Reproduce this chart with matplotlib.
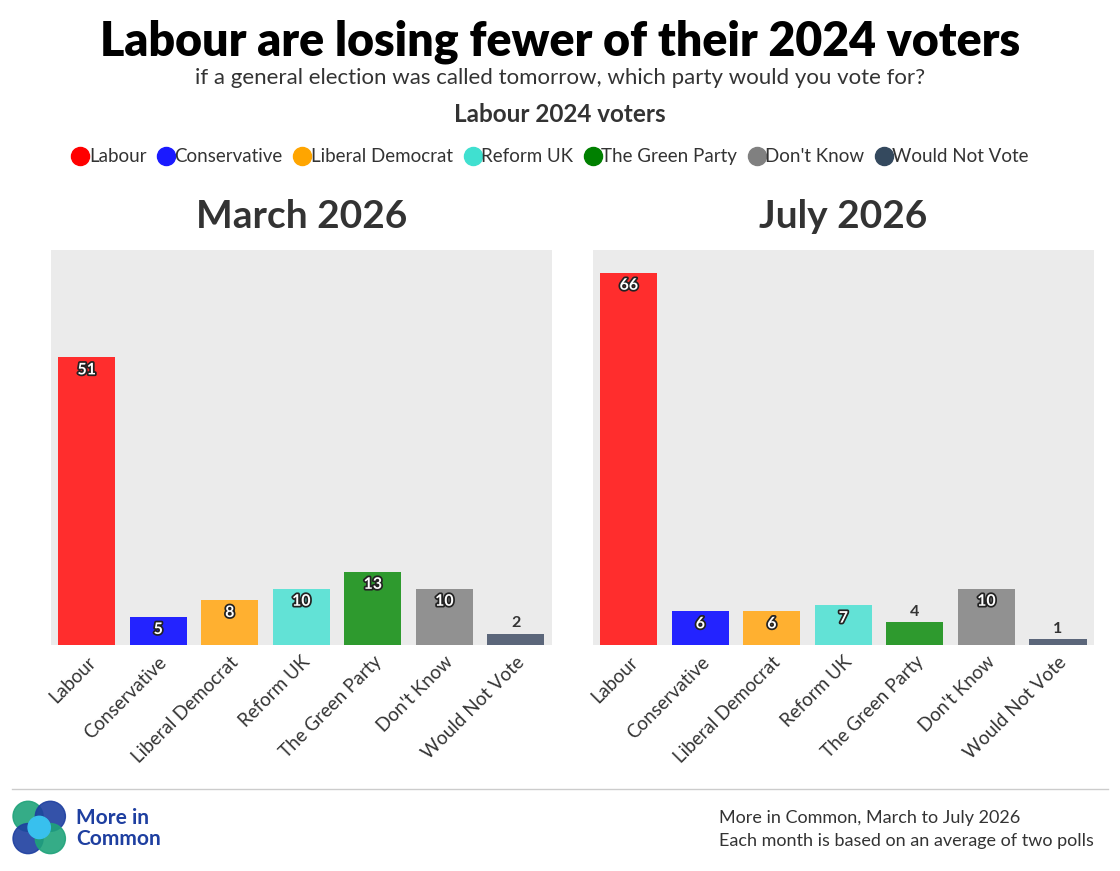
import matplotlib
matplotlib.use("Agg")
import matplotlib.pyplot as plt
from matplotlib.lines import Line2D
from matplotlib.patches import Circle
import matplotlib.patheffects as pe

categories = ["Labour", "Conservative", "Liberal Democrat", "Reform UK",
              "The Green Party", "Don't Know", "Would Not Vote"]
march = [51, 5, 8, 10, 13, 10, 2]
july = [66, 6, 6, 7, 4, 10, 1]
panel_titles = ["March 2026", "July 2026"]
bar_colors = ["#ff2d2d", "#2323ff", "#ffb030", "#62e2d6", "#2e9a2e", "#919191", "#5b667a"]
legend_colors = ["#ff0000", "#1a1aff", "#ffa500", "#40e0d0", "#008000", "#808080", "#34495e"]

plt.rcParams['font.family'] = ['Lato', 'DejaVu Sans']
fig = plt.figure(figsize=(11.2, 8.71), dpi=100)
fig.patch.set_facecolor("white")

fig.text(0.5, 0.952, "Labour are losing fewer of their 2024 voters", ha="center", va="center",
         fontsize=33.5, fontweight="heavy", color="black")
fig.text(0.5, 0.911, "if a general election was called tomorrow, which party would you vote for?",
         ha="center", va="center", fontsize=16, color="#333333")
fig.text(0.5, 0.869, "Labour 2024 voters", ha="center", va="center", fontsize=17.5,
         fontweight="bold", color="#333333")

handles = [Line2D([], [], marker="o", linestyle="", markersize=13, markerfacecolor=c,
                  markeredgecolor=c) for c in legend_colors]
fig.legend(handles, categories, loc="center", bbox_to_anchor=(0.489, 0.82), ncol=7, frameon=False,
           fontsize=13.5, handletextpad=-0.3, columnspacing=0.3, handlelength=1.5,
           labelcolor="#333333")

positions = [0.0455, 0.5295]
for pos, vals, title in zip(positions, [march, july], panel_titles):
    ax = fig.add_axes([pos, 0.2595, 0.447, 0.4535])
    ax.set_facecolor("#ebebeb")
    x = range(len(categories))
    ax.bar(x, vals, color=bar_colors, width=0.8)
    ax.set_ylim(0, 70)
    ax.set_xlim(-0.5, len(categories) - 0.5)
    ax.set_yticks([])
    ax.set_xticks(list(x))
    ax.set_xticklabels(categories, rotation=45, ha="right", rotation_mode="anchor",
                       fontsize=13.5, color="#333333")
    ax.tick_params(axis="x", length=0, pad=6)
    for s in ax.spines.values():
        s.set_visible(False)
    ax.set_title(title, fontsize=28, fontweight="bold", color="#333333", pad=16)
    for i, v in enumerate(vals):
        if v >= 5:
            ax.text(i, v - 1.1, str(v), ha="center", va="top", fontsize=11.5, fontweight="bold",
                    color="white",
                    path_effects=[pe.withStroke(linewidth=2.5, foreground="#222222")])
        else:
            ax.text(i, v + 0.6, str(v), ha="center", va="bottom", fontsize=11.5,
                    fontweight="bold", color="#333333")

fig.add_artist(Line2D([0.011, 0.989], [0.094, 0.094], color="#cccccc", lw=1))

fig.text(0.642, 0.061, "More in Common, March to July 2026", ha="left", va="center",
         fontsize=13, color="#333333")
fig.text(0.642, 0.034, "Each month is based on an average of two polls", ha="left", va="center",
         fontsize=13, color="#333333")

# Logo
lax = fig.add_axes([0.01, 0.018, 0.05, 0.064])
lax.set_xlim(0, 1); lax.set_ylim(0, 1); lax.axis("off"); lax.set_aspect("equal")
for (cx, cy, c) in [(0.3, 0.7, "#1fa37a"), (0.7, 0.7, "#1e3fa0"),
                    (0.3, 0.3, "#1e3fa0"), (0.7, 0.3, "#1fa37a")]:
    lax.add_patch(Circle((cx, cy), 0.27, color=c, alpha=0.9))
lax.add_patch(Circle((0.5, 0.5), 0.2, color="#38c0ee"))
fig.text(0.068, 0.061, "More in", fontsize=15, fontweight="bold", color="#1e3fa0", va="center")
fig.text(0.068, 0.037, "Common", fontsize=15, fontweight="bold", color="#1e3fa0", va="center")

fig.savefig("out.png", dpi=100)
